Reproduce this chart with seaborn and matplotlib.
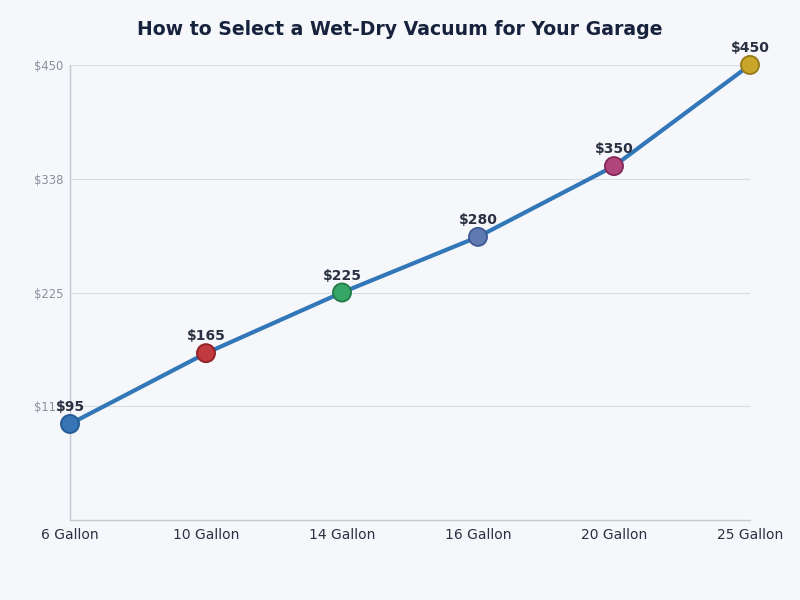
import matplotlib
matplotlib.use("Agg")
import matplotlib.pyplot as plt
import seaborn as sns
import pandas as pd

categories = ["6 Gallon", "10 Gallon", "14 Gallon", "16 Gallon", "20 Gallon", "25 Gallon"]
prices = [95, 165, 225, 280, 350, 450]
point_colors = ["#3674b5", "#c0393f", "#36a565", "#5f79b3", "#b0457a", "#c9a52a"]
edge_colors = ["#245a93", "#8e2227", "#237a48", "#3f5a91", "#84285a", "#97791a"]
ytick_values = [112.5, 225, 337.5, 450]
ytick_labels = ["$113", "$225", "$338", "$450"]
title = "How to Select a Wet-Dry Vacuum for Your Garage"

bg = "#f5f7fb"
sns.set_theme(style="white")
plt.rcParams['font.family'] = ['DejaVu Sans']

df = pd.DataFrame({"cat": categories, "price": prices, "idx": range(len(categories))})

fig = plt.figure(figsize=(8, 6), dpi=100, facecolor=bg)
ax = fig.add_axes([0.0875, 0.1333, 0.85, 0.7584])
ax.set_facecolor(bg)

sns.lineplot(data=df, x="idx", y="price", ax=ax, color="#3277b8", linewidth=3, zorder=2)
sns.scatterplot(data=df, x="idx", y="price", hue="cat", palette=point_colors, ax=ax,
                s=170, legend=False, zorder=3, linewidth=1.3)
coll = ax.collections[-1]
coll.set_edgecolor(edge_colors)
coll.set_clip_on(False)

for i, v in enumerate(prices):
    ax.annotate(f"${v}", (i, v), xytext=(0, 7), textcoords="offset points",
                ha="center", va="bottom", fontsize=10, fontweight="bold", color="#2a3142", zorder=4)

ax.set_xlim(0, len(categories) - 1)
ax.set_ylim(0, 450)
ax.set_xticks(range(len(categories)))
ax.set_xticklabels(categories, fontsize=10, color="#2a3142")
ax.set_yticks(ytick_values)
ax.set_yticklabels(ytick_labels, fontsize=8.3, color="#8a8f9c")
ax.tick_params(axis="x", length=0, pad=6)
ax.tick_params(axis="y", length=0, pad=5)
ax.grid(axis="y", color="#d9dce2", linewidth=0.8)
ax.set_axisbelow(True)
ax.set_xlabel("")
ax.set_ylabel("")
for s in ["top", "right"]:
    ax.spines[s].set_visible(False)
for s in ["left", "bottom"]:
    ax.spines[s].set_color("#c4c8d0")
    ax.spines[s].set_linewidth(1)

fig.suptitle(title, x=0.5, y=0.967, fontsize=13.6, fontweight="bold", color="#17223d")

fig.savefig("out.png", dpi=100, facecolor=bg)
